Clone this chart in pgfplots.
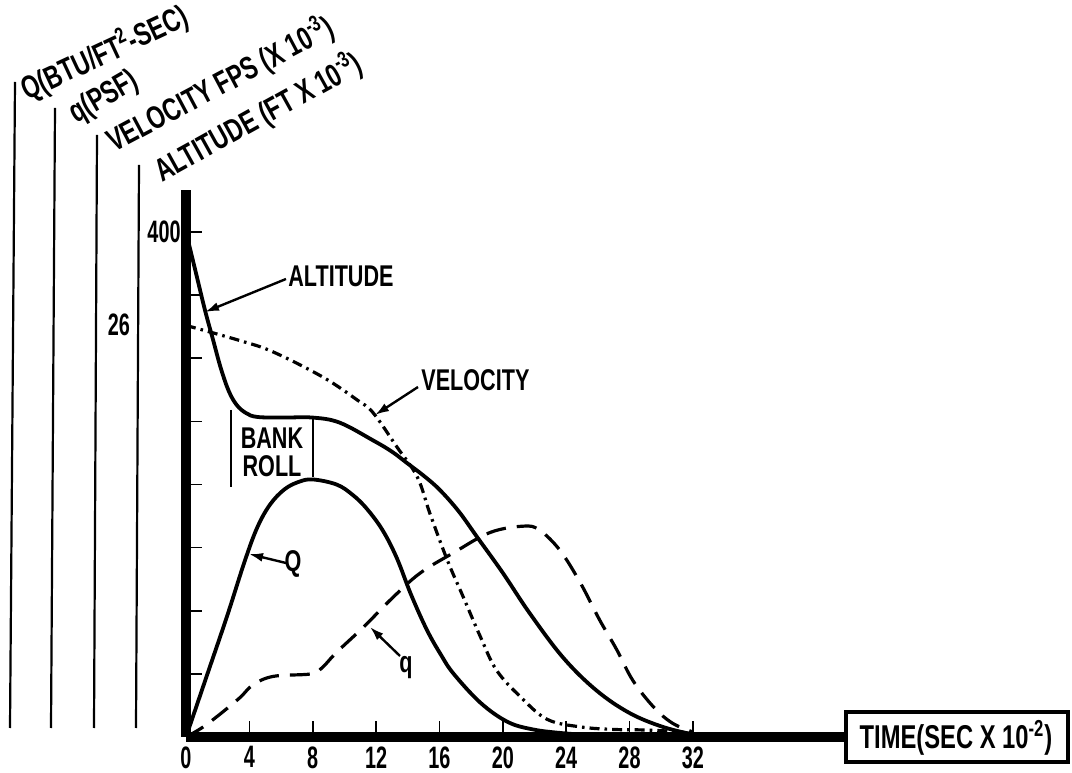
\documentclass[border=0pt]{standalone}
\usepackage{pgfplots}
\pgfplotsset{compat=1.18}
\usetikzlibrary{arrows.meta}
\usepackage{fontspec}
\setmainfont{Liberation Sans}[FakeStretch=0.72]
\newfontfamily\tickfam{Liberation Sans}[FakeStretch=0.64]
\newcommand{\annot}{\fontsize{15}{17}\selectfont\bfseries}
\newcommand{\titlef}{\fontsize{16}{18}\selectfont\bfseries}
\newcommand{\tickf}{\tickfam\fontsize{15.5}{17}\selectfont\bfseries}

\begin{document}
\begin{tikzpicture}
\useasboundingbox (0,0) rectangle (536pt,386pt);
\begin{axis}[
  at={(93pt,17.5pt)}, anchor=origin,
  x=7.92pt, y=0.63125pt,
  xmin=0, xmax=41.67, ymin=0, ymax=433,
  axis lines=left,
  axis line style={line width=4.5pt,-},
  clip=false,
  xtick={0,4,...,32},
  ytick={50,100,...,400},
  yticklabels={,,,,,,,400},
  tick align=inside,
  major tick length=8pt,
  tick style={line width=0.8pt,black},
  /pgf/number format/assume math mode=true,
  ticklabel style={font=\tickf, inner sep=1pt},
  xticklabel style={yshift=-3.5pt},
  yticklabel style={xshift=-1.5pt},
]
% Altitude
\addplot[line width=1.9pt, smooth, tension=0.6] coordinates {
(0,400) (0.6,369) (1.2,338) (1.7,315) (2.2,292) (2.7,274) (3.2,263) (3.8,256.5)
(4.5,253.5) (6.1,253) (8.0,253) (9.7,249) (11.8,235) (13.0,226) (13.95,217) (15.0,207)
(16.0,196) (17.2,179) (18.4,158) (20.0,130) (21.7,98) (23.8,63) (25.9,37) (28.0,19)
(30.1,8) (32,2)};
% Velocity
\addplot[line width=1.6pt, smooth, tension=0.6, dash pattern=on 5pt off 2.5pt on 1.3pt off 2.5pt] coordinates {
(0,326) (3.4,314) (5.5,305) (8.65,285) (10.8,267) (11.8,257) (13.3,230)
(14.6,206) (15.4,177) (16.5,140) (17.5,111) (18.6,79) (19.6,53) (21.1,32)
(22.8,14) (24.9,8) (26.96,6) (29.1,5.5) (31.2,4) (32,2)};
% Q (heating rate)
\addplot[line width=1.9pt, smooth, tension=0.6] coordinates {
(0,0) (1.3,48) (2.6,96) (3.7,139) (4.5,166) (5.3,184) (6.2,196) (7.1,202) (8.0,204)
(9.5,200) (10.5,192) (11.4,181) (12.4,164) (13.3,142) (14.2,113) (15.2,85) (16.1,65)
(16.9,50) (18.6,27) (20.3,12) (21.9,6) (23.8,3) (26.1,1)};
% q (dynamic pressure)
\addplot[line width=1.6pt, smooth, tension=0.6, dash pattern=on 10pt off 5.5pt] coordinates {
(0,0) (1.26,9.5) (3.3,30) (4.2,41) (5.5,48) (7.9,50) (8.6,55) (9.5,67)
(11.2,87) (13.1,111) (14.8,130) (16.9,146) (19.2,162) (21.3,167) (22.3,164)
(23.6,148) (24.9,122) (26.1,93) (27.2,69) (28.2,45) (29.5,24) (30.7,11) (32,4)};
\end{axis}

\begin{scope}[x=0.5pt, y=-0.5pt, yshift=386pt,
  every node/.style={inner sep=0pt, font=\annot},
  arr/.style={line width=1.2pt, -{Latex[length=7pt,width=4.5pt]}}]
% left axis rules
\draw[line width=1.1pt] (15,82) -- (10,728);
\draw[line width=1.1pt] (55,108) -- (51,728);
\draw[line width=1.1pt] (97,135) -- (94,728);
\draw[line width=1.1pt] (139,165) -- (136,728);
% rotated axis titles
\node[font=\titlef, rotate=25, anchor=base west] at (27,101) {Q(BTU/FT\textsuperscript{2}-SEC)};
\node[font=\titlef, rotate=30, anchor=base west] at (76,124) {q(PSF)};
\node[font=\titlef, rotate=28, anchor=base west] at (114,153) {VELOCITY FPS (X 10\textsuperscript{-3})};
\node[font=\titlef, rotate=29, anchor=base west] at (162,183) {ALTITUDE (FT X 10\textsuperscript{-3})};
% velocity scale mark
\node[font=\tickf] at (119,325) {26};
% annotations
\node[anchor=west] at (288,276) {ALTITUDE};
\draw[arr] (286,279) -- (205,312);
\node[anchor=west] at (421,380) {VELOCITY};
\draw[arr] (418,387) -- (375,415);
\node at (293,564) {Q};
\draw[arr] (286,563) -- (249,554);
\node at (406,668) {q};
\draw[arr] (400,656) -- (370,627);
\draw[line width=1.1pt] (231,410) -- (231,487);
\draw[line width=1.1pt] (313,417) -- (313,477);
\node at (272,438) {BANK};
\node at (272,466) {ROLL};
% time box
\draw[line width=1.6pt] (846,712) rectangle (1068,762);
\node[font=\fontsize{16.5}{18}\selectfont\bfseries] at (956,738) {TIME(SEC X 10\textsuperscript{-2})};
\end{scope}
\end{tikzpicture}
\end{document}
